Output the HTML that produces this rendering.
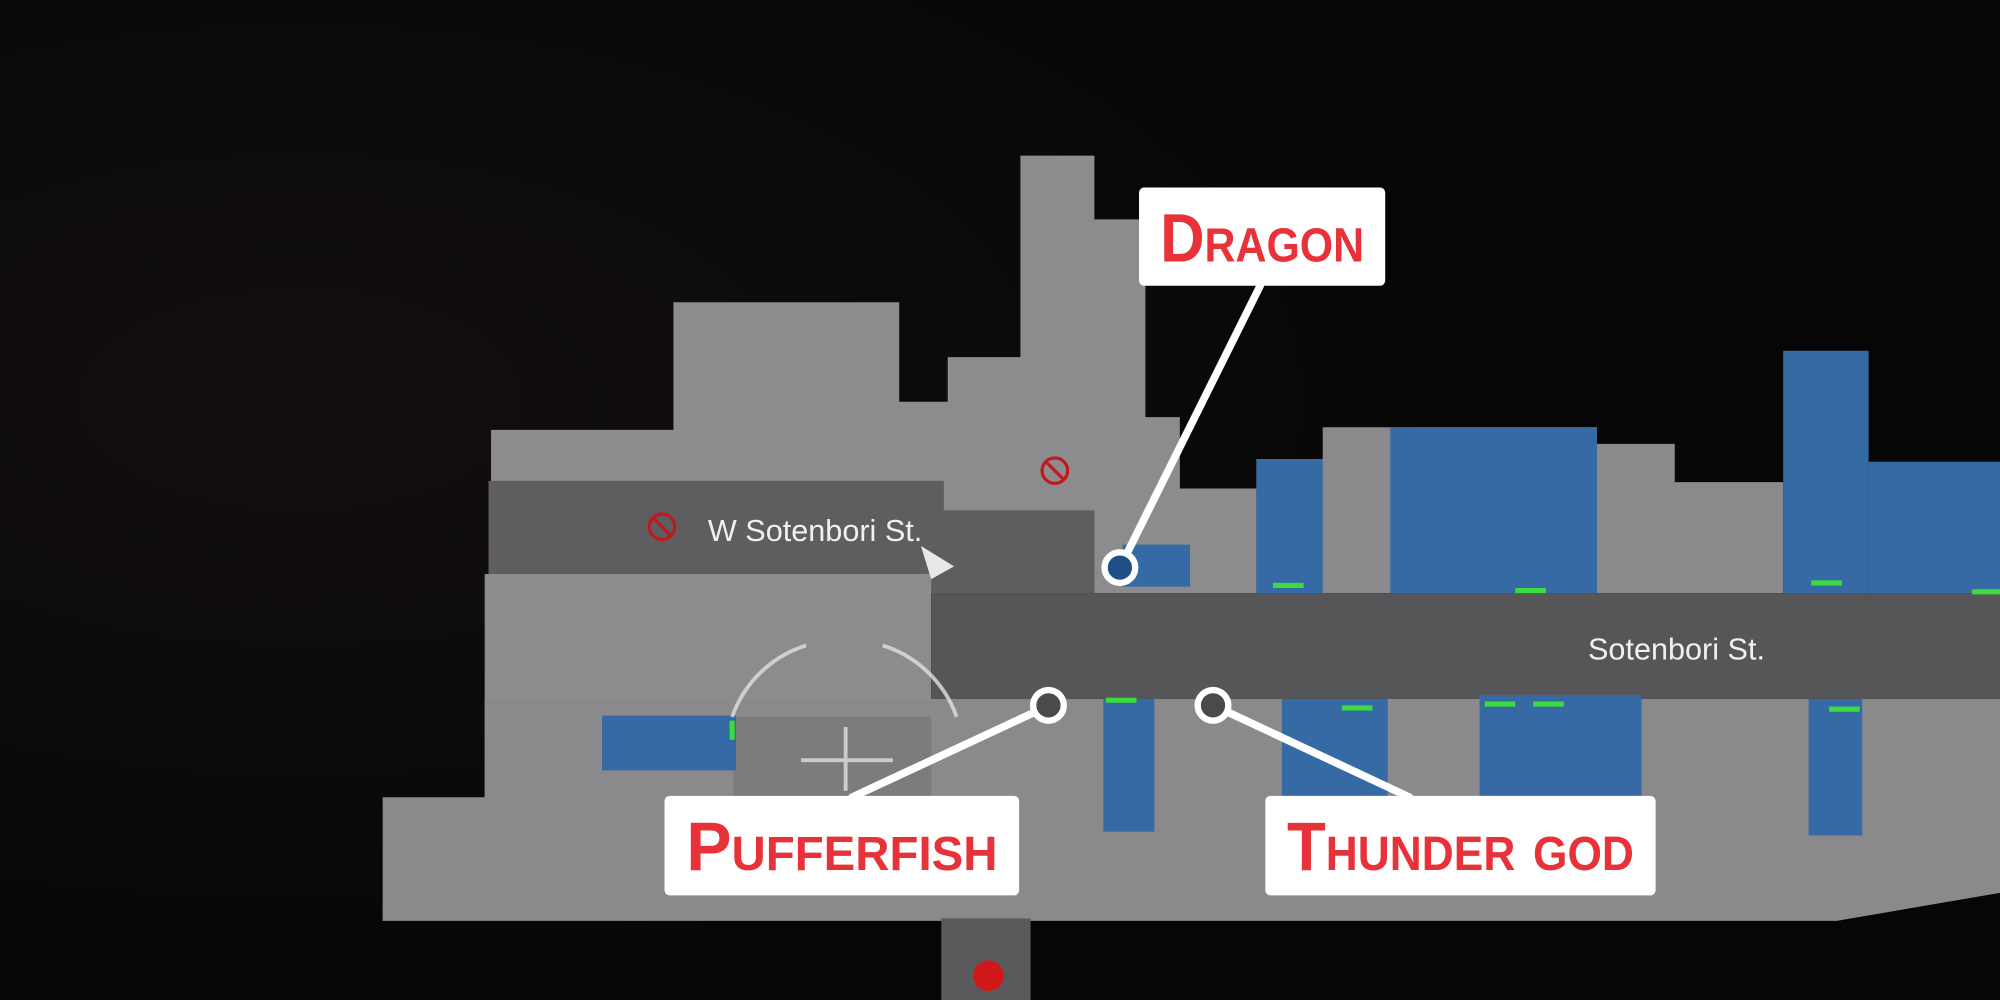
<!DOCTYPE html>
<html><head><meta charset="utf-8"><style>
html,body{margin:0;padding:0;background:#070707;width:2000px;height:1000px;overflow:hidden}
svg{display:block}
text{font-family:"Liberation Sans Narrow","Liberation Sans",sans-serif;font-weight:bold}
</style></head><body>
<svg width="2000" height="1000" viewBox="0 0 1568 784" xmlns="http://www.w3.org/2000/svg">
<defs>
<radialGradient id="bg" cx="0.15" cy="0.4" r="0.6">
<stop offset="0" stop-color="#140f0f"/><stop offset="1" stop-color="#060606"/>
</radialGradient>
</defs>
<rect width="1568" height="784" fill="url(#bg)"/>
<!-- upper gray area -->
<polygon fill="#8c8c8e" points="385,337 528,337 528,237 705,237 705,315 743,315 743,280 800,280 800,122 858,122 858,172 898,172 898,327 925,327 925,383 985,383 985,465 730,465 730,450 385,450"/>
<!-- W Sotenbori road -->
<polygon fill="#5e5e60" points="383,377 740,377 740,400 858,400 858,465 730,465 730,450 383,450"/>
<!-- right gray -->
<polygon fill="#8a8a8c" points="985,465 985,360 1037,360 1037,335 1252,335 1252,348 1313,348 1313,378 1398,378 1398,465"/>
<!-- blue buildings top -->
<rect x="985" y="360" width="52" height="105" fill="#356aa5"/>
<rect x="1090" y="335" width="162" height="130" fill="#356aa5"/>
<rect x="1398" y="275" width="67" height="190" fill="#356aa5"/>
<rect x="1465" y="362" width="103" height="103" fill="#356aa5"/>
<rect x="880" y="427" width="53" height="33" fill="#356aa5"/>
<!-- left lower block -->
<rect x="380" y="450" width="350" height="175" fill="#8c8c8e"/>
<!-- Sotenbori St road -->
<rect x="730" y="465" width="838" height="83" fill="#565658"/>
<!-- lower area -->
<polygon fill="#8a8a8c" points="300,625 380,625 380,548 1568,548 1568,700 1440,722 300,722"/>
<rect x="575" y="562" width="155" height="100" fill="#7c7c7e"/>
<!-- lower blue -->
<rect x="472" y="561" width="105" height="43" fill="#356aa5"/>
<rect x="865" y="548" width="40" height="104" fill="#356aa5"/>
<rect x="1005" y="548" width="83" height="92" fill="#356aa5"/>
<rect x="1160" y="545" width="127" height="95" fill="#356aa5"/>
<rect x="1418" y="548" width="42" height="107" fill="#356aa5"/>
<!-- green marks -->
<g stroke="#3ddc3d" stroke-width="4">
<line x1="998" y1="459" x2="1022" y2="459"/><line x1="1188" y1="463" x2="1212" y2="463"/>
<line x1="1420" y1="457" x2="1444" y2="457"/><line x1="1546" y1="464" x2="1568" y2="464"/>
<line x1="867" y1="549" x2="891" y2="549"/><line x1="1052" y1="555" x2="1076" y2="555"/>
<line x1="1164" y1="552" x2="1188" y2="552"/><line x1="1202" y1="552" x2="1226" y2="552"/>
<line x1="1434" y1="556" x2="1458" y2="556"/><line x1="574" y1="565" x2="574" y2="580"/>
</g>
<!-- bottom street -->
<rect x="738" y="720" width="70" height="64" fill="#5a5a5c"/>
<circle cx="775" cy="765" r="12" fill="#d01818"/>
<!-- no-entry icons -->
<g fill="none" stroke="#c0181e" stroke-width="2.5">
<circle cx="519" cy="413" r="10"/><line x1="512" y1="406" x2="526" y2="420"/>
<circle cx="827" cy="369" r="10"/><line x1="820" y1="362" x2="834" y2="376"/>
</g>
<!-- street labels -->
<text x="555" y="424" font-size="24" fill="#f0f0f0" style="font-weight:normal">W Sotenbori St.</text>
<text x="1245" y="517" font-size="24" fill="#f0f0f0" style="font-weight:normal">Sotenbori St.</text>
<polygon points="722,428 748,444 730,454" fill="#e8e8e8"/>
<!-- crosshair -->
<g fill="none" stroke="#e0e0e0" stroke-width="3" opacity="0.8">
<path d="M574,562 A90,90 0 0 1 632,506"/><path d="M692,506 A90,90 0 0 1 750,562"/>
<line x1="663" y1="570" x2="663" y2="620"/><line x1="628" y1="596" x2="700" y2="596"/>
</g>
<!-- connectors -->
<g stroke="#ffffff" stroke-width="6" stroke-linecap="round">
<line x1="988" y1="224" x2="882" y2="437"/>
<line x1="812" y1="558" x2="668" y2="625"/>
<line x1="962" y1="558" x2="1105" y2="625"/>
</g>
<circle cx="878" cy="445" r="12" fill="#1f4f86" stroke="#fff" stroke-width="5"/>
<circle cx="822" cy="553" r="12" fill="#4a4a4c" stroke="#fff" stroke-width="5"/>
<circle cx="951" cy="553" r="12" fill="#4a4a4c" stroke="#fff" stroke-width="5"/>
<!-- label boxes -->
<rect x="893" y="147" width="193" height="77" rx="4" fill="#fff"/>
<rect x="521" y="624" width="278" height="78" rx="4" fill="#fff"/>
<rect x="992" y="624" width="306" height="78" rx="4" fill="#fff"/>
<g fill="#e8323a" text-anchor="middle" style="font-variant:small-caps">
<text x="989.5" y="205" font-size="54" textLength="160" lengthAdjust="spacingAndGlyphs">Dragon</text>
<text x="660" y="682" font-size="54" textLength="244" lengthAdjust="spacingAndGlyphs">Pufferfish</text>
<text x="1145" y="682" font-size="54" textLength="272" lengthAdjust="spacingAndGlyphs">Thunder god</text>
</g>
</svg>
</body></html>
